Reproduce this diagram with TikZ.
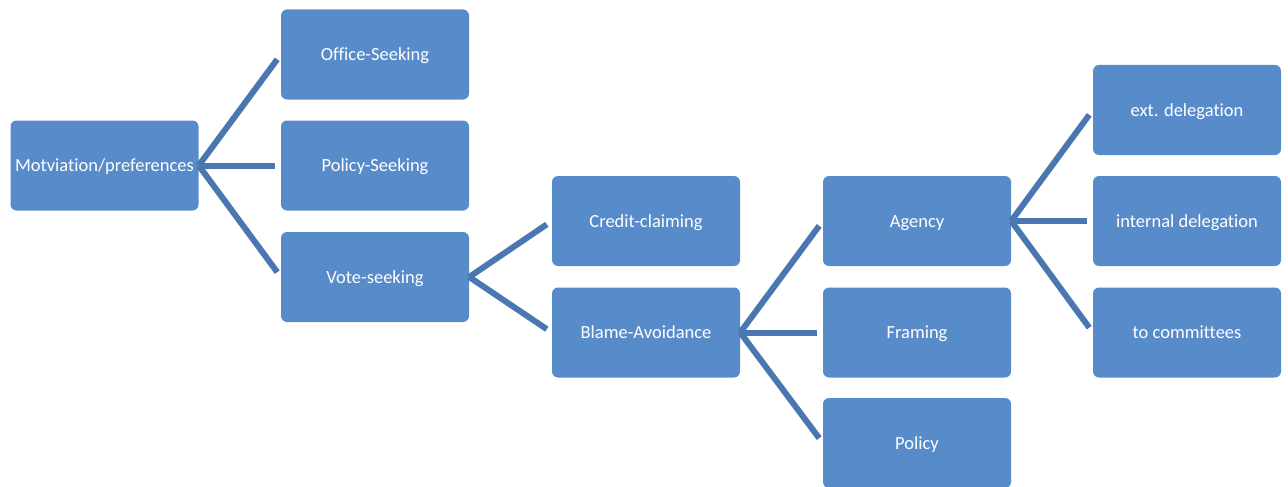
\documentclass[tikz,border=0pt]{standalone}
\usepackage{fontspec}
\setmainfont{Carlito}[Ligatures={NoCommon}]
\definecolor{boxblue}{HTML}{588BCA}
\definecolor{linkblue}{HTML}{4A77AF}

\begin{document}
\begin{tikzpicture}[x=1pt, y=-1pt,
  box/.style={fill=boxblue, rounded corners=6pt, minimum width=188pt,
    minimum height=90pt, inner sep=0pt, text=white,
    text height=13pt, text depth=1pt,
    font=\fontsize{18.5}{22}\selectfont},
  link/.style={draw=linkblue, line width=6pt, shorten >=6pt}]
  \useasboundingbox (0,0) rectangle (1288,487);

  % Motivation
  \node[box] (mot) at (104.5,165.5) {Motviation/preferences};

  % First level
  \node[box] (office) at (375,54.5) {Office-Seeking};
  \node[box] (polseek) at (375,165.5) {Policy-Seeking};
  \node[box] (vote) at (375,277) {Vote-seeking};

  % Second level
  \node[box] (credit) at (646,221) {Credit-claiming};
  \node[box] (blame) at (646,332.5) {Blame-Avoidance};

  % Third level
  \node[box] (agency) at (917,221) {Agency};
  \node[box] (framing) at (917,332.5) {Framing};
  \node[box] (policy) at (917,443) {Policy};

  % Delegation
  \node[box] (ext) at (1187,110) {ext. delegation};
  \node[box] (internal) at (1187,221) {internal delegation};
  \node[box] (committees) at (1187,332.5) {to committees};

  % Links
  \draw[link] (mot.east) -- (office.west);
  \draw[link] (mot.east) -- (polseek.west);
  \draw[link] (mot.east) -- (vote.west);

  \draw[link] (vote.east) -- (credit.west);
  \draw[link] (vote.east) -- (blame.west);

  \draw[link] (blame.east) -- (agency.west);
  \draw[link] (blame.east) -- (framing.west);
  \draw[link] (blame.east) -- (policy.west);

  \draw[link] (agency.east) -- (ext.west);
  \draw[link] (agency.east) -- (internal.west);
  \draw[link] (agency.east) -- (committees.west);
\end{tikzpicture}
\end{document}
